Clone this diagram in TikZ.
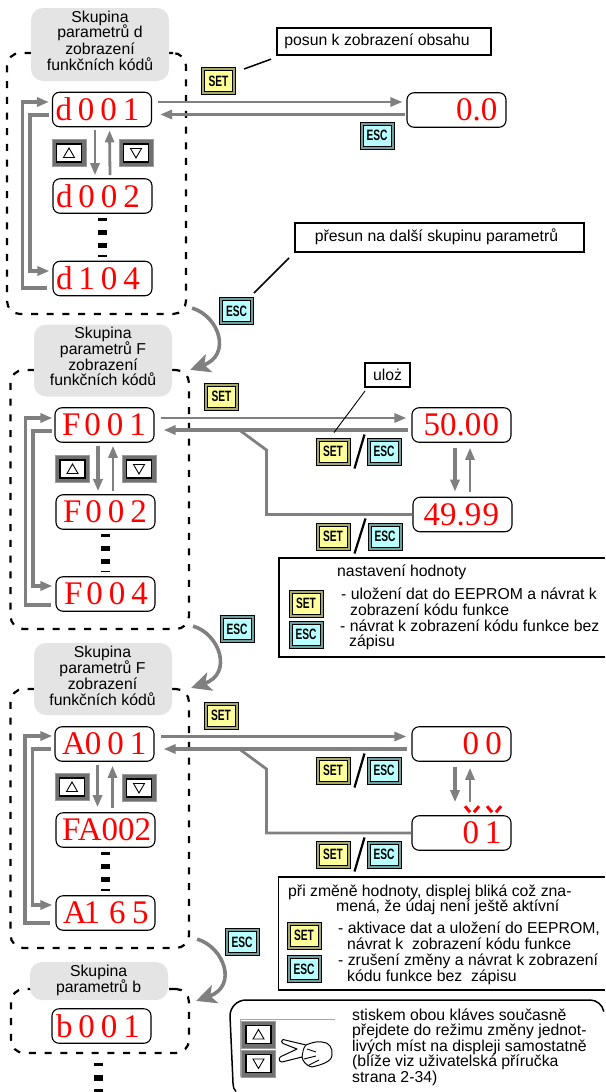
\documentclass[tikz,border=0pt]{standalone}
\usepackage{fontspec}
\setmainfont{Liberation Sans}
\newfontfamily\dfont{Liberation Serif}
\usetikzlibrary{arrows.meta}
\definecolor{flowgray}{HTML}{808080}
\definecolor{grpgray}{HTML}{E4E4E4}
\definecolor{setedge}{HTML}{A8A868}
\definecolor{setfill}{HTML}{FFFF99}
\definecolor{escedge}{HTML}{6F9F9F}
\definecolor{escfill}{HTML}{B8FFFF}
\definecolor{navedge}{HTML}{707070}
\tikzset{
  frame/.style={draw=black,line width=2.2pt,rounded corners=13pt,dash pattern=on 7pt off 8.7pt,inner sep=0pt},
  grpbox/.style={fill=grpgray,rounded corners=12pt,minimum width=138pt,inner sep=0pt},
  disp/.style={draw=black,line width=1.1pt,fill=white,rounded corners=7pt,minimum width=99pt,minimum height=34.5pt,inner sep=0pt,text=red,font=\dfont\fontsize{33}{33}\selectfont},
  flow/.style={draw=flowgray,line width=3.6pt},
  flowthin/.style={draw=flowgray,line width=2.8pt},
  flowtip/.style={-{Triangle[length=12pt,width=9pt]}},
  bigtip/.style={-{Stealth[length=20pt,width=19pt,inset=5pt]}},
  vdots/.style={draw=black,line width=9pt,dash pattern=on 3pt off 9pt on 5pt off 8pt on 5pt off 7pt on 3pt off 10pt},
  callout/.style={draw=black,line width=1.8pt,fill=white,inner sep=0pt,font=\fontsize{15.8}{16}\selectfont},
  leader/.style={draw=black,line width=1.5pt},
  infoline/.style={draw=black,line width=1.8pt},
  slashline/.style={draw=black,line width=2.2pt},
  txt/.style={inner sep=0pt,font=\fontsize{15.8}{16}\selectfont},
  keyo/.style={draw=black,line width=1pt,minimum width=34pt,minimum height=27pt,inner sep=0pt},
  keyi/.style={draw=black,line width=1pt,minimum width=28pt,minimum height=21pt,inner sep=0pt},
  navo/.style={draw=navedge!70,line width=1pt,fill=navedge,minimum width=34pt,minimum height=27pt,inner sep=0pt},
  navi/.style={draw=black,line width=1.8pt,fill=white,minimum width=25pt,minimum height=18pt,inner sep=0pt},
  tri/.style={draw=black,line width=.9pt},
  blink/.style={draw=red,line width=3pt},
}
\newcommand\keytxt[1]{\scalebox{.68}[1]{\fontsize{15}{15}\selectfont\bfseries #1}}
\newcommand\setk[3]{\node[keyo,fill=setedge] (#1) at (#2,#3) {};\node[keyi,fill=setfill] (#1i) at (#1) {\keytxt{SET}};}
\newcommand\esck[3]{\node[keyo,fill=escedge] (#1) at (#2,#3) {};\node[keyi,fill=escfill] (#1i) at (#1) {\keytxt{ESC}};}
\newcommand\upk[3]{\node[navo] (#1) at (#2,#3) {};\node[navi] (#1i) at (#1) {};
  \draw[tri] ([shift={(-5.5,4.5)}]#1.center) -- ([shift={(5.5,4.5)}]#1.center) -- ([shift={(0,-5)}]#1.center) -- cycle;}
\newcommand\dnk[3]{\node[navo] (#1) at (#2,#3) {};\node[navi] (#1i) at (#1) {};
  \draw[tri] ([shift={(-5.5,-4.5)}]#1.center) -- ([shift={(5.5,-4.5)}]#1.center) -- ([shift={(0,5)}]#1.center) -- cycle;}
\newcommand\dtx[1]{\makebox[99pt][l]{#1}}
\newcommand\gp{\kern6pt}
\newcommand\tw[4]{\node[txt,anchor=base west] (#1) at (#2,#3) {#4};}
\newcommand\tc[4]{\node[txt,anchor=base] (#1) at (#2,#3) {#4};}
\begin{document}
\begin{tikzpicture}[x=1pt,y=-1pt]
\useasboundingbox (0,0) rectangle (605,1092);
% dashed group frames
\node[frame,minimum width=179pt,minimum height=261pt] (f1) at (96.5,183.5) {};
\node[frame,minimum width=178.5pt,minimum height=259pt] (f2) at (99.75,499.5) {};
\node[frame,minimum width=178.5pt,minimum height=259pt] (f3) at (99.75,818.5) {};
\node[frame,minimum width=178pt,minimum height=64pt] (f4) at (100,1021) {};
% group captions
\node[grpbox,minimum height=73pt] (g1) at (100,44.5) {};
\node[grpbox,minimum height=72pt] (g2) at (103,360.5) {};
\node[grpbox,minimum height=72pt] (g3) at (103,679) {};
\node[grpbox,minimum height=38pt] (g4) at (99,981) {};
\tc{g1a}{100}{22}{Skupina}\tc{g1b}{100}{37.7}{parametrů d}\tc{g1c}{100}{54}{zobrazení}\tc{g1d}{100}{70}{funkčních kódů}
\tc{g2a}{103}{338}{Skupina}\tc{g2b}{103}{354}{parametrů F}\tc{g2c}{103}{370}{zobrazení}\tc{g2d}{103}{385.7}{funkčních kódů}
\tc{g3a}{102.5}{657}{Skupina}\tc{g3b}{102.5}{673}{parametrů F}\tc{g3c}{102.5}{689}{zobrazení}\tc{g3d}{102.5}{705}{funkčních kódů}
\tc{g4a}{98.6}{976}{Skupina}\tc{g4b}{98.6}{992}{parametrů b}
% displays
\node[disp] (d001) at (102,109.5) {\dtx{\kern3pt d\gp 0\gp 0\gp 1}};
\node[disp] (d002) at (102.5,196) {\dtx{\kern3pt d\gp 0\gp 0\gp 2}};
\node[disp] (d104) at (102.5,278.5) {\dtx{\kern3pt d\gp 1\gp 0\gp 4}};
\node[disp] (v00) at (456.5,110) {\dtx{\kern49pt 0.0}};
\node[disp] (F001) at (104.5,425) {\dtx{\kern7pt F\kern4pt 0\gp 0\gp 1}};
\node[disp] (F002) at (105.5,512) {\dtx{\kern7pt F\kern4pt 0\gp 0\gp 2}};
\node[disp] (F004) at (105.5,594) {\dtx{\kern8pt F\kern4pt 0\gp 0\gp 4}};
\node[disp] (v50) at (461.5,425) {\dtx{\kern11.5pt 50.0\kern1.5pt 0}};
\node[disp] (v49) at (462.5,514.5) {\dtx{\kern10.5pt 49.9\kern1.5pt 9}};
\node[disp] (A001) at (104.5,744) {\dtx{\kern7pt A\kern-1pt 0\gp 0\gp 1}};
\node[disp] (FA002) at (105.5,830) {\dtx{\kern6pt FA002}};
\node[disp] (A165) at (105.5,913) {\dtx{\kern7pt A\kern-3.3pt 1\kern9pt 6\kern6.5pt 5}};
\node[disp] (v0) at (461.5,744) {\dtx{\kern50.5pt 0\kern6.5pt 0}};
\node[disp] (v1) at (461.5,833) {\dtx{\kern50.5pt 0\gp 1}};
\node[disp] (b001) at (101.5,1026) {\dtx{\kern4pt b\gp 0\gp 0\gp 1}};
% dotted continuation
\draw[vdots] ([yshift=-4pt]d002.south) -- ([yshift=4pt]d104.north);
\draw[vdots] ([yshift=-4pt]F002.south) -- ([yshift=4pt]F004.north);
\draw[vdots] ([yshift=-4pt]FA002.south) -- ([yshift=4pt]A165.north);
\draw[draw=black,line width=9pt,dash pattern=on 3pt off 9pt on 6pt off 8pt on 4pt off 9pt] ([shift={(-3.2,19)}]b001.south) -- ([shift={(-3.2,49)}]b001.south);
% keys
\setk{ks1}{218.5}{81}
\esck{ke1}{377}{135.5}
\esck{ke2}{236.5}{311}
\upk{u1}{69}{153}\dnk{n1}{136}{153}
\upk{u2}{72.5}{469}\dnk{n2}{139}{469}
\upk{u3}{72}{787}\dnk{n3}{139}{788}
\setk{ks2}{221.5}{396.5}
\setk{ks2a}{333}{451.5}\esck{ke2a}{384}{451.5}
\setk{ks2b}{333}{536.5}\esck{ke2b}{385}{536.5}
\esck{ke3}{237}{629}
\setk{ks3}{221}{715.5}
\setk{ks3a}{333}{770.5}\esck{ke3a}{384}{770.5}
\setk{ks3b}{333}{854.5}\esck{ke3b}{384}{854.5}
\esck{ke4}{242}{942}
\setk{ksi1}{306}{603.5}\esck{kei1}{306}{634.5}
\setk{ksi2}{304}{935.5}\esck{kei2}{304}{969}
% slashes
\draw[slashline] ([shift={(4,3)}]ks2a.south east) -- ([shift={(14,-3)}]ks2a.north east);
\draw[slashline] ([shift={(4,3)}]ks2b.south east) -- ([shift={(15,-4)}]ks2b.north east);
\draw[slashline] ([shift={(4,3)}]ks3a.south east) -- ([shift={(14,-3)}]ks3a.north east);
\draw[slashline] ([shift={(4,3)}]ks3b.south east) -- ([shift={(14,-3)}]ks3b.north east);
% group 1 flows
\draw[flow,flowtip] ([shift={(-5,9.5)}]d104.west) -- ++(-25,0) |- ([shift={(-3,-7.5)}]d001.west);
\draw[flow,flowtip] ([shift={(-3,5.5)}]d001.west) -- ++(-19,0) |- ([shift={(-3,-7.5)}]d104.west);
\draw[flowthin,flowtip] ([shift={(7.5,-3)}]d002.north) -- ([shift={(7.5,3)}]d001.south);
\draw[flowthin,flowtip] ([shift={(-7,3)}]d001.south) -- ([shift={(-7.5,-3)}]d002.north);
\draw[flowthin,flowtip] ([shift={(6,-7.5)}]d001.east) -- ([shift={(-4,-8)}]v00.west);
\draw[flow,flowtip] ([shift={(-1,4.5)}]v00.west) -- ([shift={(8,5)}]d001.east);
% group 2 flows
\draw[flow,flowtip] ([shift={(-4,11)}]F004.west) -- ++(-26,0) |- ([shift={(-2,-7)}]F001.west);
\draw[flow,flowtip] ([shift={(-2,6)}]F001.west) -- ++(-19.5,0) |- ([shift={(-3,-8)}]F004.west);
\draw[flow,flowtip] ([shift={(-6.5,3)}]F001.south) -- ([shift={(-7.5,-3)}]F002.north);
\draw[flowthin,flowtip] ([shift={(7.5,-3)}]F002.north) -- ([shift={(8.5,3)}]F001.south);
\draw[flowthin,flowtip] ([shift={(6,-7)}]F001.east) -- ([shift={(-5,-7)}]v50.west);
\draw[flow,flowtip] ([shift={(-3,5)}]v50.west) -- ([shift={(9,5)}]F001.east);
\draw[flowthin] (240,430.5) -- (266.5,450) |- (v49.west);
\draw[flow,flowtip] ([shift={(-6.5,5)}]v50.south) -- ([shift={(-7.5,-5)}]v49.north);
\draw[flowthin,flowtip] ([shift={(7.5,-5)}]v49.north) -- ([shift={(8.5,5)}]v50.south);
% group 3 flows
\draw[flow,flowtip] ([shift={(-5,10)}]A165.west) -- ++(-25.5,0) |- ([shift={(-2,-8)}]A001.west);
\draw[flow,flowtip] ([shift={(-3,5)}]A001.west) -- ++(-19,0) |- ([shift={(-3,-8)}]A165.west);
\draw[flow,flowtip] ([shift={(-7,3)}]A001.south) -- ([shift={(-8,-5)}]FA002.north);
\draw[flowthin,flowtip] ([shift={(7,-4)}]FA002.north) -- ([shift={(8,4)}]A001.south);
\draw[flowthin,flowtip] ([shift={(6,-7.5)}]A001.east) -- ([shift={(-5,-7.5)}]v0.west);
\draw[flow,flowtip] ([shift={(-4,5)}]v0.west) -- ([shift={(9,5)}]A001.east);
\draw[flowthin] (240,749.5) -- (266.5,769) |- (v1.west);
\draw[flow,flowtip] ([shift={(-6.5,5)}]v0.south) -- ([shift={(-6.5,-13)}]v1.north);
\draw[flowthin,flowtip] ([shift={(8.5,-13)}]v1.north) -- ([shift={(8.5,6)}]v0.south);
% blink marks
\draw[blink] ([shift={(3.5,-9)}]v1.north) -- ([shift={(8.5,-3)}]v1.north);
\draw[blink] ([shift={(17.5,-9)}]v1.north) -- ([shift={(12.5,-3)}]v1.north);
\draw[blink] ([shift={(25.5,-9)}]v1.north) -- ([shift={(30.5,-3)}]v1.north);
\draw[blink] ([shift={(39.5,-9)}]v1.north) -- ([shift={(34.5,-3)}]v1.north);
% curved group arrows
\draw[flow,bigtip] ([shift={(5,-7)}]f1.south east) .. controls +(27,8) and (232,355) .. ([shift={(0,1)}]f2.north east);
\draw[flow,bigtip] ([shift={(3,-4)}]f2.south east) .. controls +(27,8) and (233,674) .. ([shift={(1,0)}]f3.north east);
\draw[flow,bigtip] ([shift={(7,-10)}]f3.south east) .. controls +(27,8) and (238,986) .. ([shift={(6,13)}]f4.north east);
% callouts
\node[callout,minimum width=214pt,minimum height=27.5pt] (c1) at (384,41.5) {\raisebox{3pt}{posun k zobrazení obsahu}\kern14pt};
\node[callout,minimum width=289pt,minimum height=29pt] (c2) at (439.5,237.5) {\raisebox{4pt}{přesun na další skupinu parametrů}\kern6pt};
\node[callout,minimum width=45pt,minimum height=24pt] (c3) at (387.5,375) {uloż};
\draw[leader] ([shift={(8,2)}]ks1.north east) -- ([shift={(-5,3)}]c1.south west);
\draw[leader] ([shift={(0,-4)}]ke2.north east) -- ([shift={(-5,5)}]c2.south west);
\draw[draw=black,line width=.9pt] ([shift={(1,-5)}]ks2a.north) -- ([shift={(1,3)}]c3.south west);
% info box 1
\draw[infoline] (605,558) -- (279,558) -- (279,657) -- (605,657);
\tw{i1a}{337}{576.7}{nastavení hodnoty}
\tw{i1b}{341}{599}{- uložení dat do EEPROM a návrat k}
\tw{i1c}{350}{615}{zobrazení kódu funkce}
\tw{i1d}{340}{631}{- návrat k zobrazení kódu funkce bez}
\tw{i1e}{349}{646.7}{zápisu}
% info box 2
\draw[infoline] (605,877) -- (278.5,877) -- (278.5,990) -- (605,990);
\tw{i2a}{288}{896}{při změně hodnoty, displej bliká což zna-}
\tw{i2b}{336}{911.7}{mená, že údaj není ještě aktívní}
\tw{i2c}{338}{933}{- aktivace dat a uložení do EEPROM,}
\tw{i2d}{347}{949}{návrat k\ \ zobrazení kódu funkce}
\tw{i2e}{338}{965.7}{- zrušení změny a návrat k zobrazení}
\tw{i2f}{347}{981}{kódu funkce bez\ \ zápisu}
% bottom box
\draw[draw=black,line width=1.5pt] (236,1091.5) arc[start angle=225,end angle=180,radius=10pt] -- (230,1016) arc[start angle=180,end angle=90,radius=16pt] -- (590,1000) arc[start angle=90,end angle=10,radius=14pt];
\draw[draw=gray!70,line width=.8pt] (240,1077) -- (240,1019) -- (335,1019);
\upk{u4}{258.5}{1034.5}\dnk{n4}{258.5}{1063.5}
\tw{b1}{352}{1020}{stiskem obou kláves současně}
\tw{b2}{352}{1035.7}{přejdete do režimu změny jednot-}
\tw{b3}{352}{1051}{livých míst na displeji samostatně}
\tw{b4}{352}{1066.7}{(blíže viz uživatelská příručka}
\tw{b5}{352}{1082}{strana 2-34)}
% hand
\draw[draw=black,line width=1pt,line join=round,fill=white]
  (283,1039.5) .. controls (281,1040) and (281,1043) .. (283,1043.5) -- (297,1049)
  -- (281,1056.5) .. controls (278,1058) and (279,1062) .. (282,1062)
  -- (302,1057) .. controls (303,1061) and (305,1065) .. (312,1067)
  .. controls (320,1065) and (332,1062) .. (332,1055)
  .. controls (333,1048) and (329,1042) .. (322,1042)
  .. controls (316,1041) and (311,1043) .. (306,1045) -- cycle;
\draw[draw=black,line width=.9pt] (306,1045) .. controls (303,1048) and (303,1052) .. (302,1057);
\draw[draw=black,line width=.9pt] (307,1049) -- (316,1052);
\draw[draw=black,line width=.9pt] (304,1059) -- (316,1056);
\draw[draw=black,line width=.9pt] (309,1065) -- (319,1060);
\end{tikzpicture}
\end{document}
